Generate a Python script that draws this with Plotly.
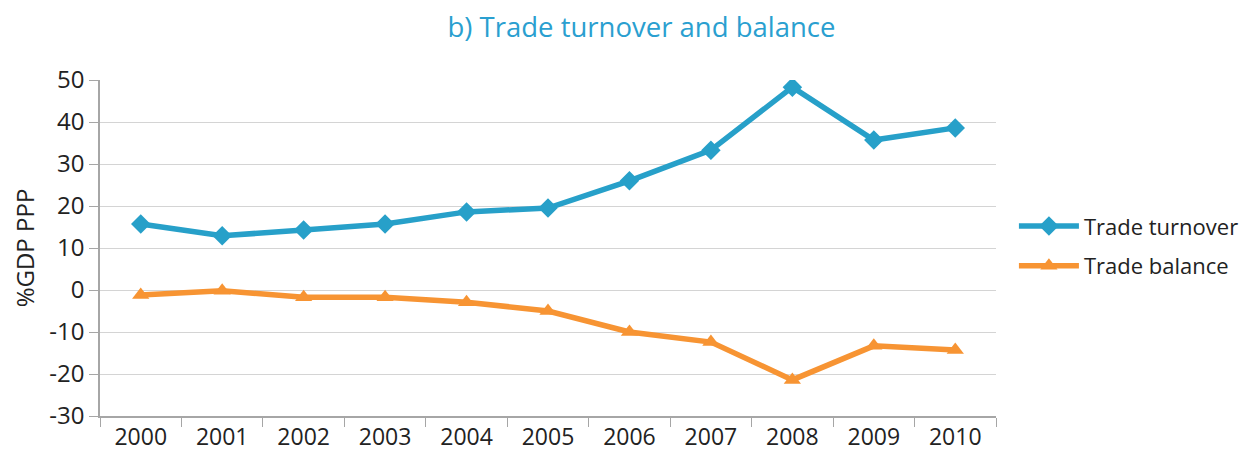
import plotly.graph_objects as go

years = ["2000", "2001", "2002", "2003", "2004", "2005", "2006", "2007", "2008", "2009", "2010"]
trade_turnover = [15.7, 12.9, 14.3, 15.7, 18.6, 19.5, 26.0, 33.3, 48.3, 35.7, 38.6]
trade_balance = [-1.2, -0.2, -1.7, -1.7, -2.9, -5.0, -10.0, -12.4, -21.4, -13.3, -14.3]
y_ticks = [-30, -20, -10, 0, 10, 20, 30, 40, 50]
y_tick_text = ["-30", "-20", "-10", "0", "10", "20", "30", "40", "50"]

FONT = "Open Sans"
fig = go.Figure()
fig.add_trace(go.Scatter(x=years, y=trade_turnover, name="Trade turnover", mode="lines+markers",
                         legendgroup="a",
                         line=dict(color="#27a0c9", width=5.5),
                         marker=dict(symbol="diamond", size=15, color="#27a0c9")))
fig.add_trace(go.Scatter(x=years, y=trade_balance, name="Trade balance", mode="lines+markers",
                         legendgroup="b",
                         line=dict(color="#f79433", width=5.5),
                         marker=dict(symbol="triangle-up", size=15, color="#f79433")))

# page body has an 8px margin, so the figure is sized/offset to fit the window
fig.update_layout(
    width=1247, height=444,
    paper_bgcolor="white", plot_bgcolor="white",
    margin=dict(l=92, r=259, t=72, b=36, autoexpand=False),
    font=dict(family=FONT, size=24, color="#222222"),
    title=dict(text="b) Trade turnover and balance", x=0.508, xanchor="center", y=0.957, yanchor="middle",
               font=dict(family=FONT, size=27.5, color="#2a9fd0")),
    legend=dict(x=1.02, y=0.505, xanchor="left", yanchor="middle", font=dict(size=22),
                itemwidth=60, tracegroupgap=8, bgcolor="rgba(0,0,0,0)"),
    showlegend=True,
)
fig.update_xaxes(type="category", tickson="boundaries", ticks="outside", ticklen=9,
                 tickcolor="#a6a6a6", showline=True, linecolor="#a6a6a6", linewidth=1.5,
                 showgrid=False, tickfont=dict(size=23), range=[-0.5, 10.5], automargin=False)
fig.update_yaxes(range=[-30, 50], tickvals=y_ticks, ticktext=y_tick_text, ticks="outside", ticklen=9,
                 tickcolor="#a6a6a6", showline=True, linecolor="#a6a6a6", linewidth=1.5,
                 showgrid=True, gridcolor="#d4d4d4", gridwidth=1.2, zeroline=False,
                 tickfont=dict(size=24), automargin=False,
                 title=dict(text="%GDP PPP", font=dict(size=24), standoff=8))
fig.write_html("out.html")
